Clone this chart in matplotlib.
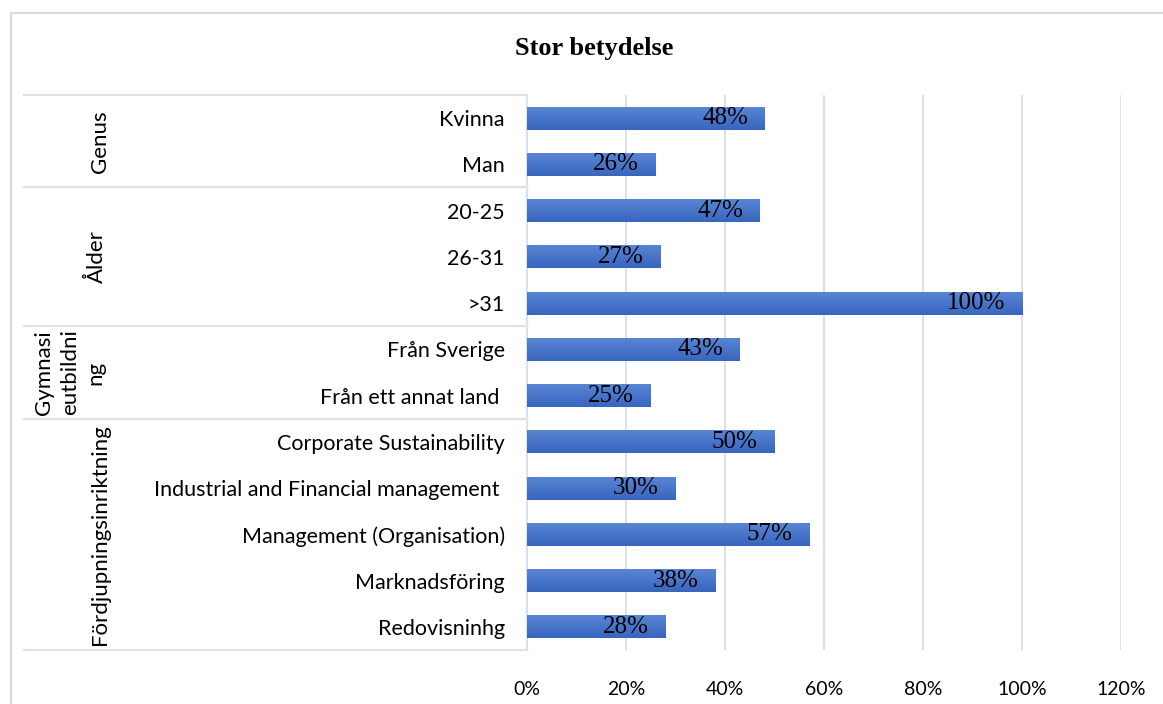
import numpy as np
import matplotlib.pyplot as plt
from matplotlib.lines import Line2D
from matplotlib.colors import LinearSegmentedColormap
from matplotlib.ticker import FuncFormatter

categories = ["Kvinna", "Man", "20-25", "26-31", ">31",
              "Från Sverige", "Från ett annat land ",
              "Corporate Sustainability", "Industrial and Financial management ",
              "Management (Organisation)", "Marknadsföring", "Redovisninhg"]
values = [48, 26, 47, 27, 100, 43, 25, 50, 30, 57, 38, 28]
groups = ["Genus", "Ålder", "Gymnasi\neutbildni\nng", "Fördjupningsinriktning"]
group_sizes = [2, 3, 2, 5]
xticks = [0, 20, 40, 60, 80, 100, 120]

fig = plt.figure(figsize=(11.63, 7.04), dpi=100)
ax = fig.add_axes([0.4531, 0.0767, 0.5108, 0.7884])

y = list(range(len(categories)))
bars = ax.barh(y, values, height=0.5, color="#4A74C8", zorder=3)

# soft vertical gradient like the office chart
cmap = LinearSegmentedColormap.from_list("g", ["#5B86D4", "#3866BF"])
grad = np.linspace(0, 1, 50).reshape(-1, 1)
for b in bars:
    x0b, y0b = b.get_x(), b.get_y()
    im = ax.imshow(grad, cmap=cmap, aspect="auto", zorder=3.5,
                   extent=(x0b, x0b + b.get_width(), y0b + b.get_height(), y0b),
                   origin="upper")
    im.set_clip_path(b)
ax.set_xlim(0, 120)
ax.set_ylim(len(categories) - 0.5, -0.5)
ax.set_aspect("auto")

ax.set_xticks(xticks)
ax.xaxis.set_major_formatter(FuncFormatter(lambda v, p: f"{v:.0f}%"))
ax.grid(axis="x", color="#DDE1E8", linewidth=1.5, zorder=0)
ax.tick_params(axis="x", length=0, pad=22, labelsize=14)
ax.tick_params(axis="y", length=0, pad=16, labelsize=15.5)
ax.set_yticks(y)
ax.set_yticklabels(categories)
for lab in ax.get_xticklabels() + ax.get_yticklabels():
    lab.set_fontfamily("Lato")
for s in ax.spines.values():
    s.set_visible(False)
ax.spines["left"].set_visible(True)
ax.spines["left"].set_color("#DDE1E8")
ax.spines["left"].set_linewidth(1.5)

# data labels inside end
for yi, v in zip(y, values):
    ax.annotate(f"{v}%", (v, yi), xytext=(-12, 0), textcoords="offset points",
                ha="right", va="center", fontsize=18,
                fontfamily="Liberation Serif", color="black", zorder=4)

# group separators and group labels
x0 = 24 / 1163
start = 0
bounds = [-0.5]
for n in group_sizes:
    start += n
    bounds.append(start - 0.5)
for b in bounds:
    yf = ax.transData.transform((0, b))[1] / fig.bbox.height
    fig.add_artist(Line2D([x0, 0.4531], [yf, yf], color="#DDE1E8", linewidth=1.5))

pos = 0
group_x = [100, 97, 70, 100]
for g, n, gx in zip(groups, group_sizes, group_x):
    mid = pos + (n - 1) / 2
    yf = ax.transData.transform((0, mid))[1] / fig.bbox.height
    fig.text(gx / 1163, yf, g, rotation=90, ha="center", va="center",
             fontsize=16, fontfamily="Lato", linespacing=1.35)
    pos += n

# chart frame
fig.add_artist(Line2D([11 / 1163, 11 / 1163, 1.0], [0, 1 - 13 / 704, 1 - 13 / 704],
                      color="#D9D9D9", linewidth=1.5))

fig.text(594 / 1163, 1 - 48 / 704, "Stor betydelse", ha="center", va="center",
         fontsize=19, fontweight="bold", fontfamily="Liberation Serif")

fig.savefig("out.png", dpi=100)
